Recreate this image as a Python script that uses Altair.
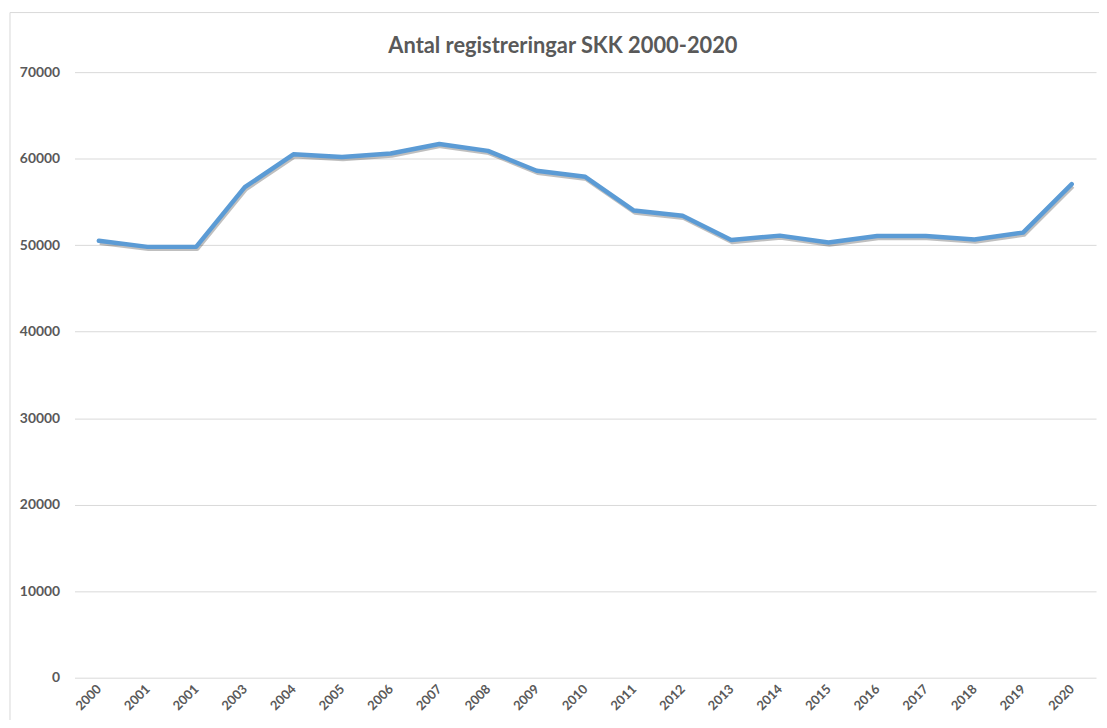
import altair as alt
import pandas as pd

labels = ["2000", "2001", "2001", "2003", "2004", "2005", "2006", "2007", "2008", "2009",
          "2010", "2011", "2012", "2013", "2014", "2015", "2016", "2017", "2018", "2019", "2020"]
values = [50500, 49800, 49800, 56700, 60500, 60200, 60600, 61700, 60900, 58600,
          57900, 54000, 53400, 50600, 51100, 50300, 51050, 51050, 50650, 51450, 57050]
title_text = "Antal registreringar SKK 2000-2020"

df = pd.DataFrame({"idx": list(range(len(labels))), "label": labels, "value": values})

label_expr = "[" + ",".join("'" + l + "'" for l in labels) + "][datum.value]"

FONT = "Lato"
GREY = "#595959"

x_enc = alt.X("idx:O",
              scale=alt.Scale(paddingOuter=0.5, paddingInner=0),
              axis=alt.Axis(title=None, labelExpr=label_expr, labelAngle=-45, labelFont=FONT,
                            labelFontWeight="bold", labelFontSize=13, labelColor=GREY,
                            labelAlign="right", labelBaseline="middle",
                            ticks=False, domain=False, labelPadding=9, grid=False))
y_enc = alt.Y("value:Q",
              scale=alt.Scale(domain=[0, 70000], nice=False),
              axis=alt.Axis(title=None, values=list(range(0, 70001, 10000)), format="d",
                            labelFont=FONT, labelFontWeight="bold", labelFontSize=14,
                            labelColor=GREY, ticks=False, domain=False, labelPadding=15,
                            gridColor="#d9d9d9", gridWidth=1))

base = alt.Chart(df)

shadow = base.mark_line(color="#000000", opacity=0.25, strokeWidth=4.5, strokeJoin="round",
                        xOffset=1, yOffset=2).encode(x=x_enc, y=y_enc)

line = base.mark_line(color="#5B9BD5", strokeWidth=4.5, strokeJoin="round",
                      strokeCap="round").encode(x=x_enc, y=y_enc)

frame_df = pd.DataFrame({"k": [0], "t": [title_text]})
left_border = alt.Chart(frame_df).mark_rule(color="#d9d9d9", strokeWidth=1).encode(
    x=alt.value(-65), y=alt.value(-60), y2=alt.value(700))
top_border = alt.Chart(frame_df).mark_rule(color="#d9d9d9", strokeWidth=1).encode(
    x=alt.value(-65), x2=alt.value(1040), y=alt.value(-60))
title = alt.Chart(frame_df).mark_text(font=FONT, fontSize=22, fontWeight="bold", color=GREY,
                                      align="center", baseline="alphabetic").encode(
    x=alt.value(492), y=alt.value(-19), text="t:N")

chart = alt.layer(left_border, top_border, title, shadow, line).properties(
    width=1029,
    height=610,
    autosize=alt.AutoSizeParams(type="none"),
    padding={"left": 67, "top": 62, "right": 3, "bottom": 40},
).configure(background="white").configure_view(stroke=None)

chart.save("out.html", embed_options={"renderer": "svg", "actions": False})
